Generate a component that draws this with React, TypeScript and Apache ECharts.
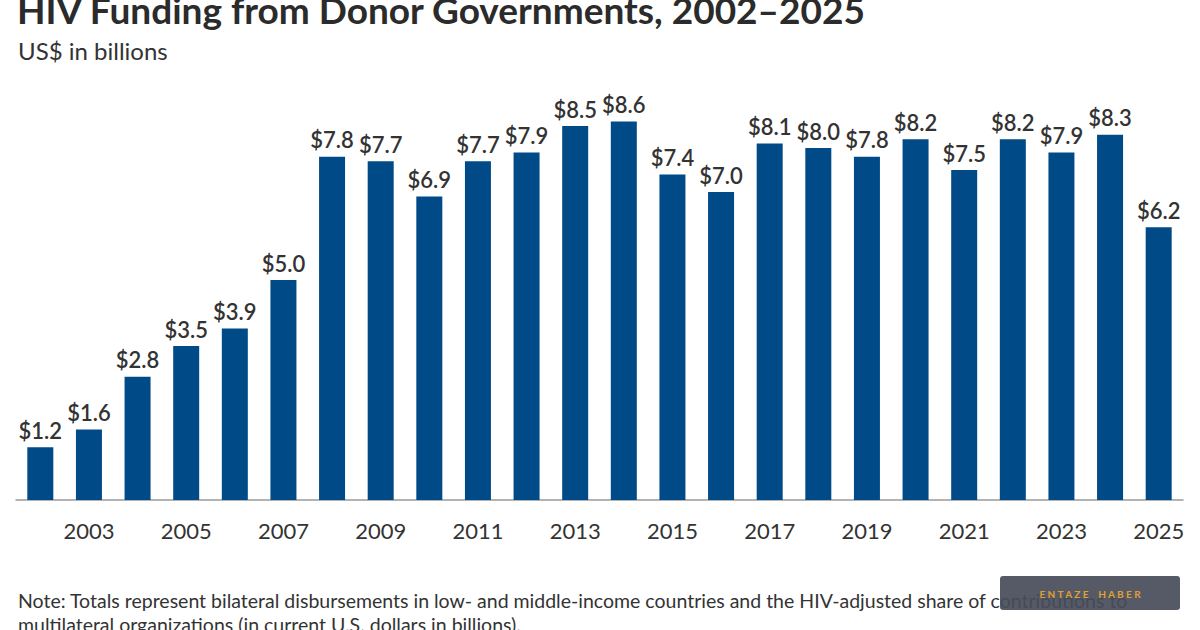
import React, { useEffect, useRef } from "react";
import * as echarts from "echarts";

const years = [
  "2002", "2003", "2004", "2005", "2006", "2007", "2008", "2009", "2010", "2011", "2012", "2013",
  "2014", "2015", "2016", "2017", "2018", "2019", "2020", "2021", "2022", "2023", "2024", "2025",
];
const funding = [
  1.2, 1.6, 2.8, 3.5, 3.9, 5.0, 7.8, 7.7, 6.9, 7.7, 7.9, 8.5,
  8.6, 7.4, 7.0, 8.1, 8.0, 7.8, 8.2, 7.5, 8.2, 7.9, 8.3, 6.2,
];

const titleText = "HIV Funding from Donor Governments, 2002–2025";
const subtitleText = "US$ in billions";
const noteLine1 =
  "Note: Totals represent bilateral disbursements in low- and middle-income countries and the HIV-adjusted share of contributions to";
const noteLine2 = "multilateral organizations (in current U.S. dollars in billions).";
const badgeText = "E N T A Z E    H A B E R";

const FONT = "'Source Sans Pro', Lato, 'Noto Sans', sans-serif";

export default function App() {
  const ref = useRef<HTMLDivElement>(null);

  useEffect(() => {
    if (!ref.current) return;
    const chart = echarts.init(ref.current, undefined, { renderer: "svg" });
    chart.setOption({
      animation: false,
      backgroundColor: "#ffffff",
      grid: { left: 16, right: 17, top: 60, bottom: 130 },
      xAxis: {
        type: "category",
        data: years,
        axisLine: { lineStyle: { color: "#9a9a9a", width: 1.5 } },
        axisTick: { show: false },
        axisLabel: {
          interval: (i: number) => i % 2 === 1,
          color: "#333333",
          fontFamily: FONT,
          fontSize: 22,
          margin: 19,
        },
      },
      yAxis: {
        type: "value",
        min: 0,
        max: 10,
        show: false,
        splitLine: { show: false },
      },
      series: [
        {
          type: "bar",
          data: funding,
          barWidth: 26,
          itemStyle: { color: "#004B87" },
          label: {
            show: true,
            position: "top",
            distance: 6,
            formatter: (p: any) => "$" + Number(p.value).toFixed(1),
            color: "#333333",
            fontFamily: FONT,
            fontSize: 22,
            fontWeight: 600,
          },
        },
      ],
      graphic: [
        {
          type: "text",
          left: 17,
          top: -9,
          style: {
            text: titleText,
            fill: "#2b2b2b",
            font: `bold 37px ${FONT}`,
          },
        },
        {
          type: "text",
          left: 18,
          top: 38,
          style: {
            text: subtitleText,
            fill: "#333333",
            font: `24px ${FONT}`,
          },
        },
        {
          type: "text",
          left: 18,
          top: 590,
          style: {
            text: noteLine1,
            fill: "#333333",
            font: `19.5px ${FONT}`,
          },
        },
        {
          type: "text",
          left: 18,
          top: 614,
          style: {
            text: noteLine2,
            fill: "#333333",
            font: `19.5px ${FONT}`,
          },
        },
        {
          type: "rect",
          shape: { x: 1000, y: 576, width: 180, height: 34, r: 3 },
          style: { fill: "rgba(72,76,90,0.92)" },
        },
        {
          type: "text",
          x: 1090,
          y: 594,
          style: {
            text: badgeText,
            fill: "#e0a030",
            font: `bold 10px ${FONT}`,
            align: "center",
            verticalAlign: "middle",
          },
        },
      ],
    });
    return () => chart.dispose();
  }, []);

  return <div ref={ref} style={{ width: 1200, height: 630, position: "absolute", left: 0, top: 0 }} />;
}
